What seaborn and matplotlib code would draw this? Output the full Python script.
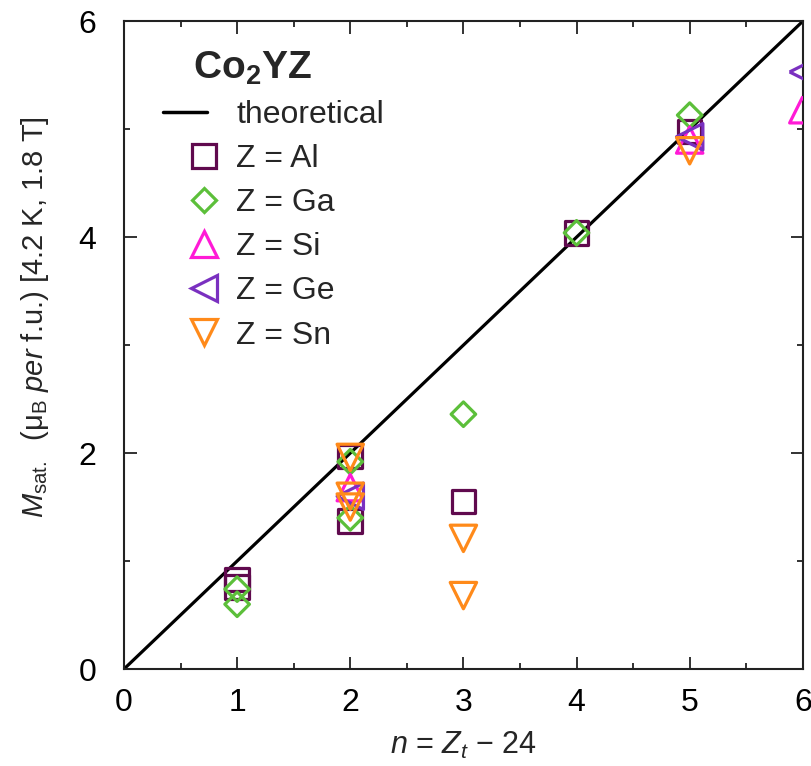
import matplotlib
matplotlib.use("Agg")
import matplotlib.pyplot as plt
import seaborn as sns
import pandas as pd
from matplotlib.lines import Line2D
from matplotlib.legend_handler import HandlerLine2D
from matplotlib.ticker import MultipleLocator

# ---- data ----
theory_x = [0, 6]
theory_y = [0, 6]

al_x = [1, 1, 2, 2, 3, 4, 5]
al_y = [0.83, 0.76, 1.97, 1.37, 1.55, 4.04, 4.98]
ga_x = [1, 1, 2, 2, 3, 4, 5]
ga_y = [0.74, 0.60, 1.92, 1.40, 2.36, 4.04, 5.13]
si_x = [2, 5, 6]
si_y = [1.68, 4.90, 5.18]
ge_x = [2, 5, 6]
ge_y = [1.60, 4.93, 5.53]
sn_x = [2, 2, 2, 3, 3, 5]
sn_y = [1.96, 1.60, 1.50, 1.21, 0.68, 4.80]

labels = ["Z = Al", "Z = Ga", "Z = Si", "Z = Ge", "Z = Sn"]
x_ticks = [0, 1, 2, 3, 4, 5, 6]
y_ticks = [0, 2, 4, 6]

sns.set_theme(style="ticks")
plt.rcParams["font.family"] = ["Liberation Sans", "DejaVu Sans"]
plt.rcParams["mathtext.fontset"] = "custom"
plt.rcParams["mathtext.rm"] = "Liberation Sans"
plt.rcParams["mathtext.it"] = "Liberation Sans:italic"
plt.rcParams["mathtext.bf"] = "Liberation Sans:bold"


class RightMarkerHandler(HandlerLine2D):
    """Place the single legend marker near the right end of the handle box."""
    def get_xdata(self, legend, xdescent, ydescent, width, height, fontsize):
        xdata = [-xdescent + 0.86 * width, -xdescent + width]
        return xdata, [-xdescent + 0.93 * width]


fig = plt.figure(figsize=(8.12, 7.66), dpi=100)
ax = fig.add_axes([0.1527, 0.1266, 0.836, 0.8457])

sns.lineplot(x=theory_x, y=theory_y, ax=ax, color="black", linewidth=2.3, zorder=1)

series = [
    (al_x, al_y, "s", "#600a4e", 17),
    (ga_x, ga_y, "D", "#5cbf3a", 12.5),
    (si_x, si_y, "^", "#ff1ad6", 19),
    (ge_x, ge_y, "<", "#7a30c0", 19),
    (sn_x, sn_y, "v", "#ff8a1a", 19),
]
handles = [Line2D([0], [0], color="black", lw=2.5)]
for (xs, ys, m, c, ms), lab in zip(series, labels):
    df = pd.DataFrame({"n": xs, "M": ys})
    sns.scatterplot(data=df, x="n", y="M", ax=ax, marker=m, s=ms ** 2,
                    facecolor="none", edgecolor=c, linewidth=2.3, zorder=3)
    handles.append(Line2D([0], [0], marker=m, ls="none", markerfacecolor="none",
                          markeredgecolor=c, markeredgewidth=2.3, markersize=ms))

ax.set_xlim(0, 6)
ax.set_ylim(0, 6)
ax.set_xticks(x_ticks)
ax.set_yticks(y_ticks)
ax.xaxis.set_minor_locator(MultipleLocator(0.5))
ax.yaxis.set_minor_locator(MultipleLocator(1))
ax.tick_params(which="both", direction="in", top=True, right=True, colors="#222222",
               labelcolor="black", width=1.3)
ax.tick_params(which="major", length=9, labelsize=23)
ax.tick_params(axis="x", which="major", pad=13.5)
ax.tick_params(axis="y", which="major", pad=20)
ax.tick_params(which="minor", length=4.5)
for sp in ax.spines.values():
    sp.set_linewidth(1.5)
    sp.set_color("#222222")

ax.set_xlabel(r"$n$ = $Z_t$ $-$ 24", fontsize=22)
ax.set_ylabel(r"$M_{\rm sat.}$  ($\rm\mu_B$ $per$ f.u.) [4.2 K, 1.8 T]", fontsize=21)
ax.xaxis.set_label_coords(0.5, -0.094)
ax.yaxis.set_label_coords(-0.108, 0.543)

ax.text(0.101, 0.956, r"$\mathbf{Co_2YZ}$", transform=ax.transAxes, fontsize=28,
        va="top", ha="left")
hmap = {h: RightMarkerHandler() for h in handles[1:]}
leg = ax.legend(handles, ["theoretical"] + labels, loc="upper left",
                bbox_to_anchor=(0.057, 0.878), frameon=False, fontsize=23,
                handlelength=1.4, handletextpad=0.9, labelspacing=0.44,
                borderaxespad=0, borderpad=0, handler_map=hmap)

fig.savefig("out.png", dpi=100)
